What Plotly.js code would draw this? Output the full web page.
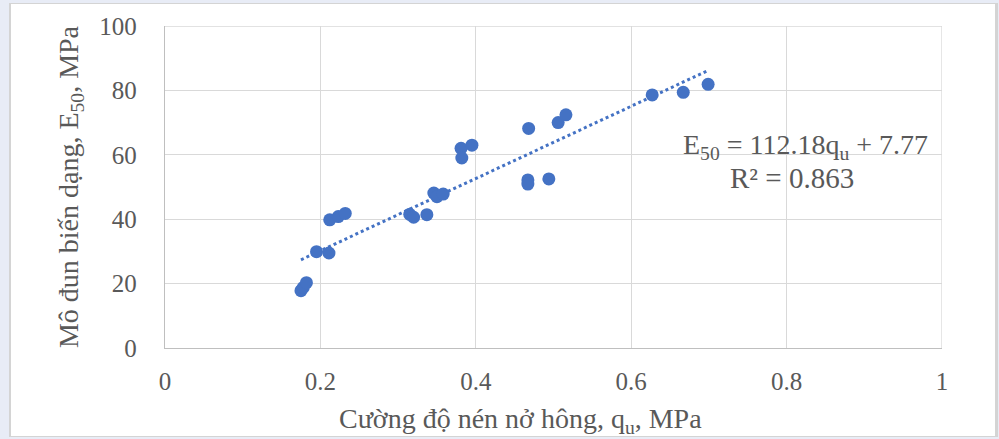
<!DOCTYPE html>
<html>
<head>
<meta charset="utf-8">
<script src="https://cdn.plot.ly/plotly-3.0.1.min.js"></script>
<style>
  html, body { margin: 0; padding: 0; width: 999px; height: 439px; background: #e8ecf6; overflow: hidden; }
  #frame { position: absolute; left: 9px; top: 3px; width: 984px; height: 432px; background: #ffffff; border: 1px solid #d4d4d4; border-left-width: 2px; border-right-width: 3px; }
  #chart { position: absolute; left: 0; top: 0; width: 999px; height: 439px; }
</style>
</head>
<body>
<div id="frame"></div>
<div id="chart"></div>
<script>
// Data
const qu = [0.175, 0.178, 0.182, 0.195, 0.211, 0.212, 0.223, 0.232,
            0.315, 0.320, 0.337, 0.346, 0.350, 0.358,
            0.381, 0.382, 0.395, 0.467, 0.467, 0.494, 0.468,
            0.506, 0.516, 0.627, 0.667, 0.699];
const E50 = [17.8, 18.8, 20.3, 29.9, 29.5, 39.8, 40.8, 41.8,
             41.5, 40.6, 41.4, 48.1, 47.0, 47.8,
             62.0, 59.0, 63.0, 52.2, 50.9, 52.5, 68.2,
             70.0, 72.4, 78.6, 79.4, 81.9];
const slope = 112.18;
const intercept = 7.77;
const r2 = 0.863;
const xTicks = [0, 0.2, 0.4, 0.6, 0.8, 1];
const xTickText = ['0', '0.2', '0.4', '0.6', '0.8', '1'];
const yTicks = [0, 20, 40, 60, 80, 100];
const xTitle = 'Cường độ nén nở hông, q<sub>u</sub>, MPa';
const yTitle = 'Mô đun biến dạng, E<sub>50</sub>, MPa';

const xMin = Math.min(...qu), xMax = Math.max(...qu);
const trendX = [xMin, xMax];
const trendY = trendX.map(x => slope * x + intercept);

const txtColor = '#595959';
const serif = 'Liberation Serif, Times New Roman, serif';

const traces = [
  {
    x: trendX, y: trendY, mode: 'lines', type: 'scatter',
    line: { color: '#4472C4', width: 3, dash: 'dot' },
    hoverinfo: 'skip', showlegend: false
  },
  {
    x: qu, y: E50, mode: 'markers', type: 'scatter',
    marker: { color: '#4472C4', size: 13, line: { width: 0 } },
    showlegend: false
  }
];

const layout = {
  width: 999, height: 439,
  margin: { l: 165, r: 57, t: 26, b: 91 },
  paper_bgcolor: 'rgba(0,0,0,0)',
  plot_bgcolor: 'rgba(0,0,0,0)',
  font: { family: serif, color: txtColor, size: 25 },
  showlegend: false,
  xaxis: {
    range: [0, 1], tickvals: xTicks, ticktext: xTickText,
    showgrid: true, gridcolor: '#d9d9d9', gridwidth: 1.3,
    zeroline: false, showline: true, linecolor: '#bfbfbf', linewidth: 1.3,
    mirror: false, ticks: '', ticklabelstandoff: 11,
    tickfont: { family: serif, size: 25, color: txtColor }
  },
  yaxis: {
    range: [0, 100], tickvals: yTicks,
    showgrid: true, gridcolor: '#d9d9d9', gridwidth: 1.3,
    zeroline: false, showline: true, linecolor: '#bfbfbf', linewidth: 1.3,
    ticks: '', ticklabelstandoff: 22,
    tickfont: { family: serif, size: 25, color: txtColor },
    title: { text: yTitle, font: { family: serif, size: 28, color: txtColor }, standoff: 12 }
  },
  annotations: [
    {
      xref: 'paper', yref: 'paper', x: 0.457, y: -0.224, showarrow: false,
      text: xTitle,
      font: { family: serif, size: 28, color: txtColor }, xanchor: 'center', yanchor: 'middle'
    },
    {
      xref: 'x', yref: 'y', x: 0.824, y: 62.7, showarrow: false,
      text: 'E<sub>50</sub> = ' + slope.toFixed(2) + 'q<sub>u</sub> + ' + intercept.toFixed(2),
      font: { family: serif, size: 28, color: txtColor }, xanchor: 'center', yanchor: 'middle'
    },
    {
      xref: 'x', yref: 'y', x: 0.807, y: 52.8, showarrow: false,
      text: 'R² = ' + r2.toFixed(3),
      font: { family: serif, size: 29, color: txtColor }, xanchor: 'center', yanchor: 'middle'
    }
  ],
  shapes: [
    { type: 'line', xref: 'x', yref: 'y', x0: 1, x1: 1, y0: 0, y1: 100, line: { color: '#d9d9d9', width: 1.3 } },
    { type: 'line', xref: 'x', yref: 'y', x0: 0, x1: 1, y0: 100, y1: 100, line: { color: '#d9d9d9', width: 1.3 } }
  ]
};

Plotly.newPlot('chart', traces, layout, { displayModeBar: false, staticPlot: true });
</script>
</body>
</html>
